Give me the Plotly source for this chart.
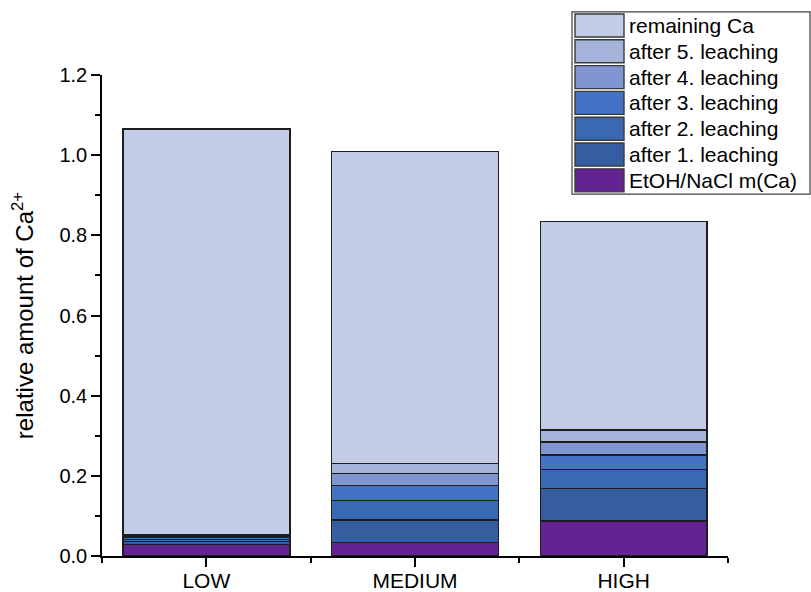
import plotly.graph_objects as go

categories = ["LOW", "MEDIUM", "HIGH"]
series_names = ["EtOH/NaCl m(Ca)", "after 1. leaching", "after 2. leaching",
                "after 3. leaching", "after 4. leaching", "after 5. leaching",
                "remaining Ca"]
etoh_nacl = [0.028, 0.034, 0.0875]
after1 = [0.008, 0.056, 0.081]
after2 = [0.005, 0.0485, 0.0475]
after3 = [0.006, 0.038, 0.036]
after4 = [0.003, 0.029, 0.032]
after5 = [0.002, 0.025, 0.030]
remaining = [1.013, 0.778, 0.520]
colors = ["#632393", "#345DA2", "#3A69B4", "#4472C4", "#8196D0", "#A5B3DB", "#C2CCE6"]
yticks = [0.0, 0.2, 0.4, 0.6, 0.8, 1.0, 1.2]

series_values = [etoh_nacl, after1, after2, after3, after4, after5, remaining]
xpos = list(range(len(categories)))

fig = go.Figure()
for name, vals, col in zip(series_names, series_values, colors):
    fig.add_trace(go.Bar(x=xpos, y=vals, name=name, marker_color=col,
                         marker_line_color="#1e1e1e", marker_line_width=1.4,
                         showlegend=False))

W, H = 811, 592
L, R, T, B = 102, 728, 75, 555.7

def px2paper(px, py):
    return (px - L) / (R - L), (B - py) / (B - T)

# manual legend (large swatches like the reference)
shapes = []
annotations = []
x0, y0 = px2paper(572, 12)
x1, y1 = px2paper(810, 194)
shapes.append(dict(type="rect", xref="paper", yref="paper", x0=x0, y0=y0, x1=x1, y1=y1,
                   line=dict(color="#404040", width=1.2), fillcolor="white", layer="above"))
pitch = 25.8
top = 14
for i, (name, col) in enumerate(zip(series_names[::-1], colors[::-1])):
    ya = top + i * pitch
    yb = ya + 23
    sx0, sy0 = px2paper(575, ya)
    sx1, sy1 = px2paper(624, yb)
    shapes.append(dict(type="rect", xref="paper", yref="paper", x0=sx0, y0=sy0, x1=sx1, y1=sy1,
                       line=dict(color="#3a3a3a", width=1.4), fillcolor=col, layer="above"))
    tx, ty = px2paper(627, (ya + yb) / 2)
    annotations.append(dict(xref="paper", yref="paper", x=tx, y=ty, text=name, showarrow=False,
                            xanchor="left", yanchor="middle",
                            font=dict(family="Liberation Sans, Arial", size=21, color="black")))

fig.update_layout(
    template="none",
    width=W, height=H, autosize=False,
    barmode="stack", bargap=0.2,
    plot_bgcolor="white", paper_bgcolor="white",
    margin=dict(l=L, r=W - R, t=T, b=H - B, pad=0, autoexpand=False),
    font=dict(family="Liberation Sans, Arial", size=20, color="black"),
    shapes=shapes, annotations=annotations,
    xaxis=dict(range=[-0.5, 2.5], tickvals=xpos, ticktext=categories, automargin=False,
               showline=True, linecolor="black", linewidth=1.6,
               ticks="outside", ticklen=9, tickwidth=1.6, tickcolor="black",
               ticklabelstandoff=-4,
               showgrid=False, zeroline=False,
               minor=dict(tick0=0.5, dtick=1, ticks="outside", ticklen=5,
                          tickwidth=1.6, tickcolor="black", showgrid=False),
               tickfont=dict(size=21)),
    yaxis=dict(range=[0, 1.2], tickvals=yticks, ticktext=[f"{v:.1f}" for v in yticks],
               automargin=False,
               showline=True, linecolor="black", linewidth=1.6,
               ticks="outside", ticklen=9, tickwidth=1.6, tickcolor="black",
               showgrid=False, zeroline=False,
               minor=dict(dtick=0.1, ticks="outside", ticklen=5, tickwidth=1.6,
                          tickcolor="black", showgrid=False),
               tickfont=dict(size=20),
               title=dict(text="relative amount of Ca<sup>2+</sup>", font=dict(size=24),
                          standoff=19)),
)

fig.write_html("out.html", config={"displayModeBar": False},
               post_script="document.body.style.margin='0';")
